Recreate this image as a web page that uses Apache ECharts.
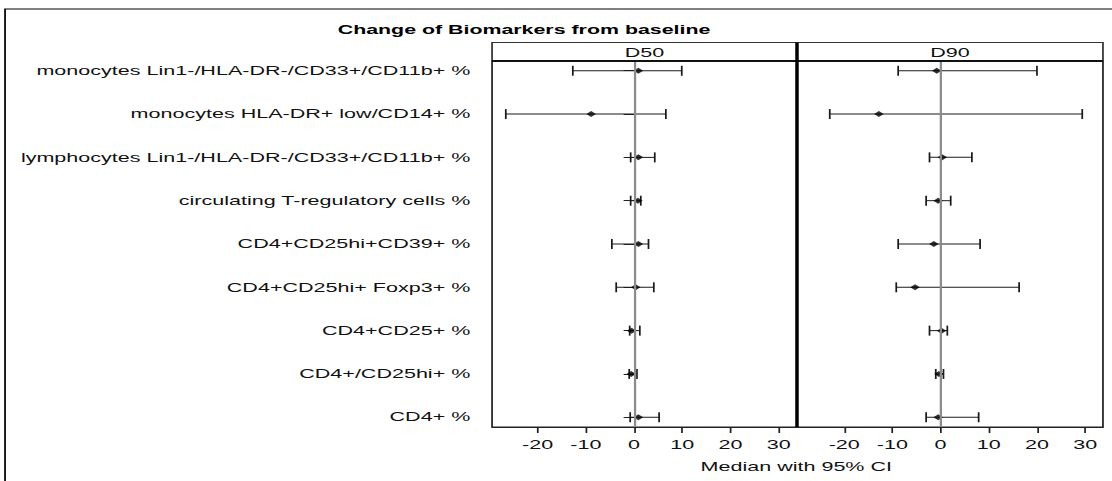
<!DOCTYPE html>
<html>
<head>
<meta charset="utf-8">
<script src="https://cdn.jsdelivr.net/npm/echarts@6/dist/echarts.min.js"></script>
<style>
  html, body { margin: 0; padding: 0; background: #fff; overflow: hidden; }
  #wrap { width: 1112px; height: 481px; overflow: hidden; }
  #chart { width: 640px; height: 481px; transform: scaleX(1.7375); transform-origin: 0 0; }
</style>
</head>
<body>
<div id="wrap"><div id="chart"></div></div>
<script>
// ---- data ----
const categories = [
  'monocytes Lin1-/HLA-DR-/CD33+/CD11b+ %',
  'monocytes HLA-DR+ low/CD14+ %',
  'lymphocytes Lin1-/HLA-DR-/CD33+/CD11b+ %',
  'circulating T-regulatory cells %',
  'CD4+CD25hi+CD39+ %',
  'CD4+CD25hi+ Foxp3+ %',
  'CD4+CD25+ %',
  'CD4+/CD25hi+ %',
  'CD4+ %'
];
const panels = ['D50', 'D90'];
const d50Median = [0.9, -8.9, 0.9, 0.8, 0.9, 0.35, -0.5, -0.6, 0.9];
const d50Lower  = [-12.7, -26.6, -0.7, -0.7, -4.6, -3.7, -0.9, -1.0, -0.8];
const d50Upper  = [9.9, 6.6, 4.3, 1.4, 3.0, 4.1, 1.2, 0.6, 5.2];
const d90Median = [-0.8, -12.8, 0.35, -0.5, -1.4, -5.3, 0.2, -0.35, -0.5];
const d90Lower  = [-8.8, -23.0, -2.3, -3.0, -8.8, -9.2, -2.3, -1.0, -3.0];
const d90Upper  = [20.0, 29.4, 6.5, 2.1, 8.2, 16.3, 1.4, 0.6, 7.9];
const xTicks = [-20, -10, 0, 10, 20, 30];
const titleText = 'Change of Biomarkers from baseline';
const xAxisTitle = 'Median with 95% CI';

// ---- chart ----
const FONT = '"Liberation Sans", Arial, sans-serif';
const rowValues = categories.map((c, i) => i + 1);
const chart = echarts.init(document.getElementById('chart'), null, { renderer: 'svg' });

function renderBar(params, api) {
  const y = api.value(2);
  const a = api.coord([api.value(0), y]);
  const b = api.coord([api.value(1), y]);
  const h = 5;
  const st = { stroke: '#1a1a1a', lineWidth: 1, fill: null };
  return {
    type: 'group',
    children: [
      { type: 'line', shape: { x1: a[0], y1: a[1], x2: b[0], y2: b[1] }, style: st },
      { type: 'line', shape: { x1: a[0], y1: a[1] - h, x2: a[0], y2: a[1] + h }, style: st },
      { type: 'line', shape: { x1: b[0], y1: b[1] - h, x2: b[0], y2: b[1] + h }, style: st }
    ]
  };
}

const lowers = [d50Lower, d90Lower];
const uppers = [d50Upper, d90Upper];
const medians = [d50Median, d90Median];

const series = [];
[0, 1].forEach(p => {
  series.push({
    type: 'line', xAxisIndex: p, yAxisIndex: p, data: [], silent: true, z: 1,
    markLine: {
      silent: true, symbol: 'none', label: { show: false },
      lineStyle: { color: '#8c8c8c', width: 1.3, type: 'solid' },
      data: [{ xAxis: 0 }], animation: false
    }
  });
  series.push({
    type: 'custom', xAxisIndex: p, yAxisIndex: p, z: 3, silent: true,
    renderItem: renderBar,
    encode: { x: [0, 1], y: 2 },
    data: categories.map((c, i) => [lowers[p][i], uppers[p][i], i + 1])
  });
  series.push({
    type: 'scatter', xAxisIndex: p, yAxisIndex: p, z: 4, silent: true,
    symbol: 'diamond', symbolSize: [5.5, 6],
    itemStyle: { color: '#000' },
    data: categories.map((c, i) => [medians[p][i], i + 1])
  });
});

const xRanges = [[-29.45, 33.8], [-29.8, 33.7]];
const grids = [
  { left: 283.2, right: 640 - 458.7, top: 61, bottom: 54 },
  { left: 458.7, right: 640 - 634.8, top: 61, bottom: 54 }
];

const option = {
  animation: false,
  backgroundColor: '#fff',
  grid: grids.map(g => Object.assign({ show: true, borderColor: '#222', borderWidth: 1, backgroundColor: 'transparent' }, g)),
  xAxis: [0, 1].map(p => ({
    type: 'value', gridIndex: p, min: xRanges[p][0], max: xRanges[p][1],
    splitLine: { show: false },
    axisLine: { show: true, lineStyle: { color: '#222', width: 1 } },
    axisTick: { show: true, inside: false, length: 6, customValues: xTicks, lineStyle: { color: '#222' } },
    axisLabel: { show: true, customValues: xTicks, margin: 12, fontSize: 12.4, color: '#111', fontFamily: FONT }
  })),
  yAxis: [0, 1].map(p => ({
    type: 'value', gridIndex: p, inverse: true, min: 0.775, max: 9.225,
    splitLine: { show: false },
    axisLine: { show: p === 0, lineStyle: { color: '#222', width: 1 } },
    axisTick: { show: p === 0, inside: false, length: 6, customValues: rowValues, lineStyle: { color: '#222' } },
    axisLabel: {
      show: p === 0, customValues: rowValues, margin: 12.5, fontSize: 12.4, color: '#111', fontFamily: FONT,
      formatter: v => categories[Math.round(v) - 1] || ''
    }
  })),
  series: series,
  graphic: [
    { type: 'rect', silent: true, z: 0, shape: { x: 2.9, y: 9, width: 800, height: 600 },
      style: { fill: null, stroke: '#000', lineWidth: 1 } },
    { type: 'text', silent: true, x: 301.6, y: 30, style: { text: titleText, font: 'bold 12.3px ' + FONT, fill: '#000', align: 'center', verticalAlign: 'middle' } },
    { type: 'rect', silent: true, z: 5, shape: { x: 283.2, y: 42.5, width: 634.8 - 283.2, height: 61 - 42.5 },
      style: { fill: '#fff', stroke: '#333', lineWidth: 1 } },
    { type: 'line', silent: true, z: 6, shape: { x1: 283.2, y1: 61, x2: 634.8, y2: 61 }, style: { stroke: '#111', lineWidth: 2 } },
    { type: 'line', silent: true, z: 6, shape: { x1: 458.7, y1: 42.5, x2: 458.7, y2: 427 }, style: { stroke: '#000', lineWidth: 2 } },
    { type: 'text', silent: true, z: 7, x: (283.2 + 458.7) / 2, y: 52.5, style: { text: panels[0], font: '12.4px ' + FONT, fill: '#111', align: 'center', verticalAlign: 'middle' } },
    { type: 'text', silent: true, z: 7, x: (458.7 + 634.8) / 2, y: 52.5, style: { text: panels[1], font: '12.4px ' + FONT, fill: '#111', align: 'center', verticalAlign: 'middle' } },
    { type: 'text', silent: true, x: 458.3, y: 466.5, style: { text: xAxisTitle, font: '12.4px ' + FONT, fill: '#111', align: 'center', verticalAlign: 'middle' } }
  ]
};
chart.setOption(option);
</script>
</body>
</html>
